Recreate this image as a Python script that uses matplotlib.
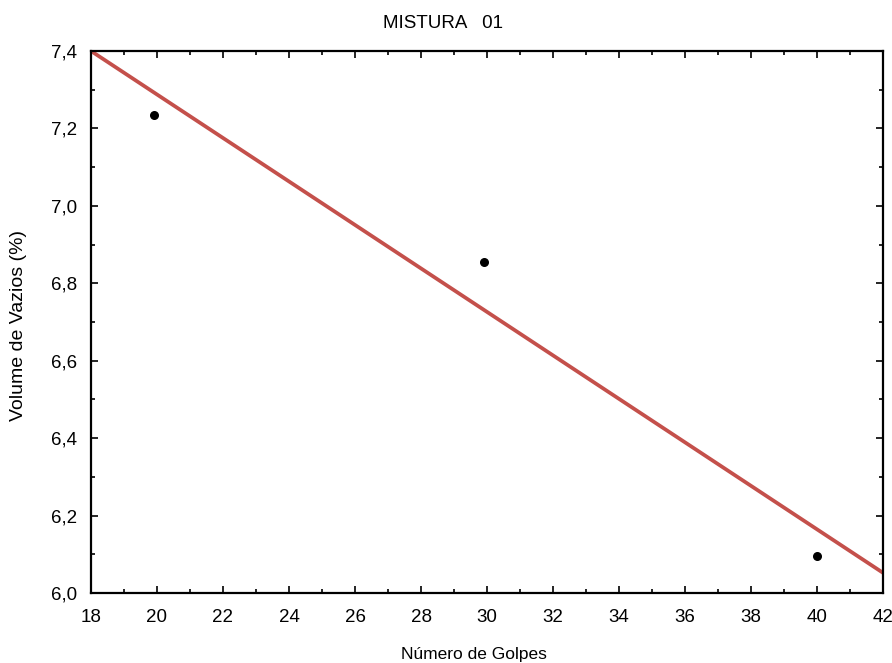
import matplotlib
matplotlib.use("Agg")
import matplotlib.pyplot as plt
from matplotlib.ticker import MultipleLocator, FuncFormatter

plt.rcParams['font.family'] = ['Liberation Sans', 'DejaVu Sans']

golpes = [19.9, 29.9, 40.0]
vazios = [7.235, 6.855, 6.096]
fit_x = [18, 42]
fit_y = [7.40, 6.052]

fig = plt.figure(figsize=(8.92, 6.63), dpi=100)
ax = fig.add_axes([0.102, 0.1056, 0.888, 0.8175])

ax.plot(fit_x, fit_y, color='#c4504b', lw=2.7, solid_capstyle='butt', zorder=2)
ax.scatter(golpes, vazios, s=30, color='black', zorder=3)

ax.set_xlim(18, 42)
ax.set_ylim(6.0, 7.4)
ax.xaxis.set_major_locator(MultipleLocator(2))
ax.xaxis.set_minor_locator(MultipleLocator(1))
ax.yaxis.set_major_locator(MultipleLocator(0.2))
ax.yaxis.set_minor_locator(MultipleLocator(0.1))
ax.yaxis.set_major_formatter(FuncFormatter(lambda v, p: f"{v:.1f}".replace('.', ',')))
ax.xaxis.set_major_formatter(FuncFormatter(lambda v, p: f"{v:.0f}"))

ax.tick_params(which='both', direction='in', top=True, right=True, width=1.2)
ax.tick_params(which='major', length=5, labelsize=13.5)
ax.tick_params(axis='x', which='major', pad=11.5)
ax.tick_params(axis='y', which='major', pad=10)
ax.tick_params(which='minor', length=3)
for s in ax.spines.values():
    s.set_linewidth(1.6)

fig.text(0.497, 1 - 23 / 663, 'MISTURA   01', fontsize=13.5, ha='center', va='center')
ax.set_xlabel('Número de Golpes', fontsize=12.5)
ax.xaxis.set_label_coords(0.483, -0.0996)
ax.set_ylabel('Volume de Vazios (%)', fontsize=14, va='center')
ax.yaxis.set_label_coords(-0.092, 0.494)

fig.savefig('out.png', dpi=100)
